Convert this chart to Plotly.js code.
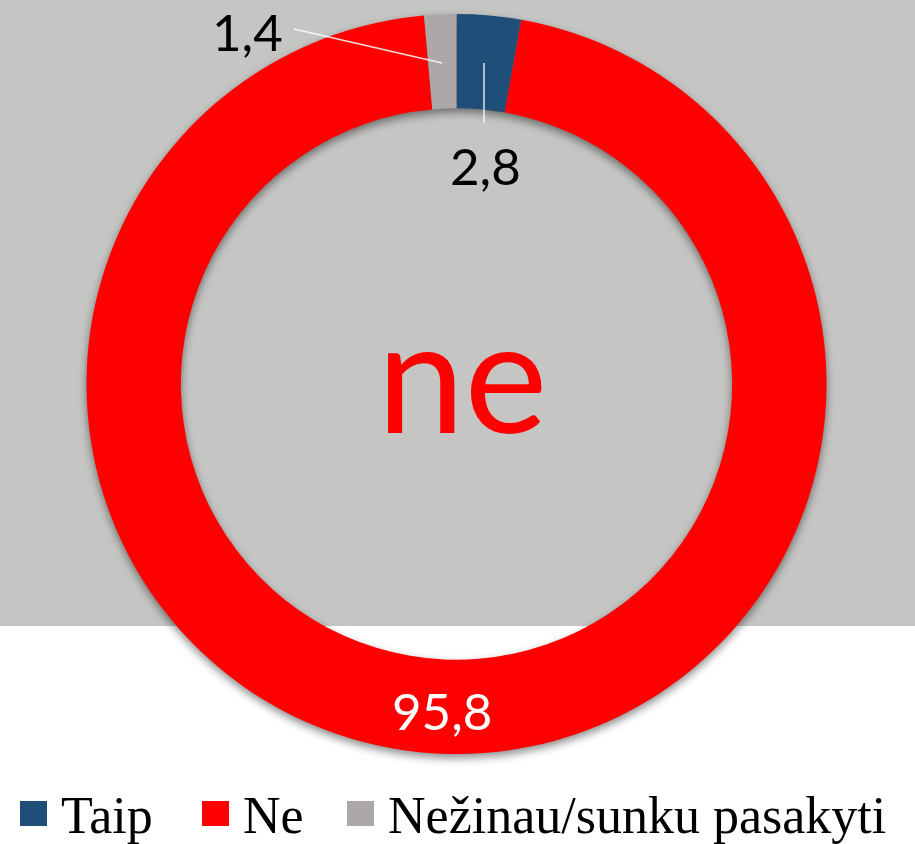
<!DOCTYPE html>
<html>
<head>
<meta charset="utf-8">
<script src="https://cdn.plot.ly/plotly-3.0.1.min.js"></script>
<style>
html,body{margin:0;padding:0;background:#fff;}
#chart{width:915px;height:844px;}
.pielayer .trace{filter: drop-shadow(0px 4px 4px rgba(0,0,0,0.45));}
</style>
</head>
<body>
<div id="chart"></div>
<script>
// Data
const labels = ["Taip", "Ne", "Nežinau/sunku pasakyti"];
const values = [2.8, 95.8, 1.4];
const colors = ["#1F4E79", "#FF0000", "#ABA8A7"];
const centerWord = "ne";

const W = 915, H = 844;
const px = x => x / W;
const py = y => 1 - y / H;
const fmt = v => v.toFixed(1).replace('.', ',');

const trace = {
  type: 'pie',
  labels: labels,
  values: values,
  marker: {colors: colors, line: {width: 0}},
  hole: 0.745,
  sort: false,
  direction: 'clockwise',
  rotation: 0,
  textinfo: 'none',
  hoverinfo: 'label+value',
  showlegend: false,
  domain: {x: [px(86.5), px(826.5)], y: [py(754), py(14)]}
};

const shapes = [
  {type: 'rect', xref: 'paper', yref: 'paper', x0: 0, x1: 1, y0: py(626), y1: 1,
   fillcolor: '#C5C5C3', line: {width: 0}, layer: 'below'},
  // leader lines
  {type: 'line', xref: 'paper', yref: 'paper', x0: px(294), y0: py(29), x1: px(442), y1: py(63),
   line: {color: 'rgba(255,255,255,0.85)', width: 1.5}},
  {type: 'line', xref: 'paper', yref: 'paper', x0: px(484), y0: py(63), x1: px(484), y1: py(123),
   line: {color: 'rgba(255,255,255,0.85)', width: 1.5}}
];

// legend squares
const legSq = [20, 202, 347];
const legTx = [59, 241, 386];
const annotations = [
  {xref: 'paper', yref: 'paper', x: px(462), y: py(372), text: centerWord, showarrow: false,
   font: {family: 'Lato', size: 157, color: '#FF0000'}, xanchor: 'center', yanchor: 'middle'},
  {xref: 'paper', yref: 'paper', x: px(248), y: py(32), text: fmt(values[2]), showarrow: false,
   font: {family: 'Lato', size: 51, color: '#000000'}, xanchor: 'center', yanchor: 'middle'},
  {xref: 'paper', yref: 'paper', x: px(485), y: py(166), text: fmt(values[0]), showarrow: false,
   font: {family: 'Lato', size: 51, color: '#000000'}, xanchor: 'center', yanchor: 'middle'},
  {xref: 'paper', yref: 'paper', x: px(442), y: py(710), text: fmt(values[1]), showarrow: false,
   font: {family: 'Lato', size: 51, color: '#FFFFFF'}, xanchor: 'center', yanchor: 'middle'}
];
labels.forEach((l, i) => {
  shapes.push({type: 'rect', xref: 'paper', yref: 'paper', x0: px(legSq[i]), x1: px(legSq[i] + 27),
    y0: py(826), y1: py(801), fillcolor: colors[i], line: {width: 0}});
  annotations.push({xref: 'paper', yref: 'paper', x: px(legTx[i]), y: py(815), text: l, showarrow: false,
    font: {family: 'Liberation Serif', size: 52, color: '#000000'}, xanchor: 'left', yanchor: 'middle'});
});

const layout = {
  width: W, height: H,
  margin: {l: 0, r: 0, t: 0, b: 0},
  paper_bgcolor: '#FFFFFF',
  separators: ', ',
  shapes: shapes,
  annotations: annotations,
  showlegend: false
};

Plotly.newPlot('chart', [trace], layout, {displayModeBar: false, staticPlot: true});
</script>
</body>
</html>
